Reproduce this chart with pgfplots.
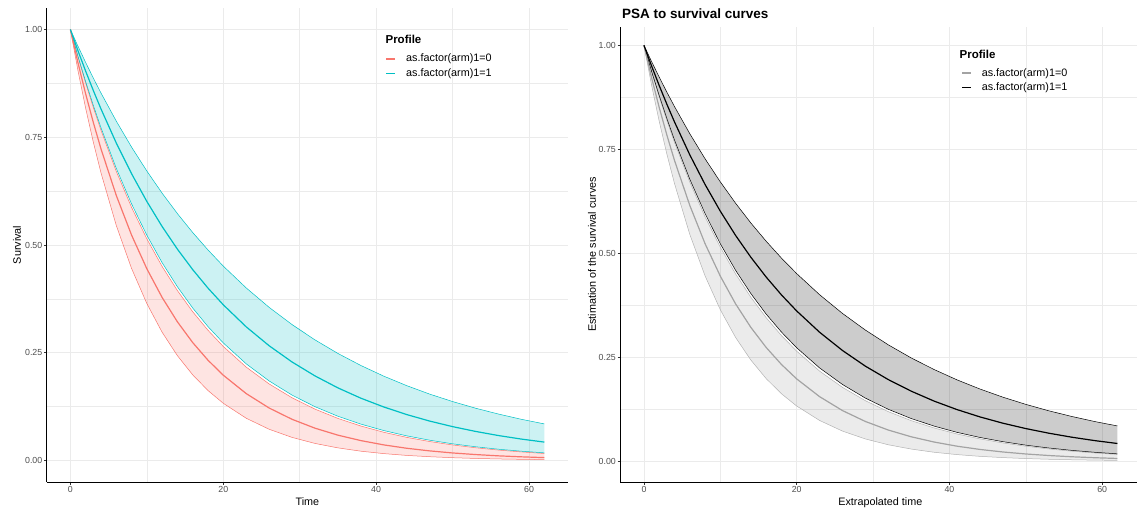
\documentclass[border=0pt]{standalone}
\usepackage{fontspec}
\setmainfont{Liberation Sans}
\usepackage{pgfplots}
\usepackage{pgfplotstable}
\usepgfplotslibrary{fillbetween}
\pgfplotsset{compat=1.18}

\definecolor{ggred}{HTML}{F8766D}
\definecolor{ggcyan}{HTML}{00BFC4}
\definecolor{gridgray}{HTML}{EBEBEB}
\definecolor{ticktext}{HTML}{4D4D4D}
\definecolor{armzero}{HTML}{A3A3A3}
\definecolor{armzeroedge}{HTML}{B3B3B3}

% survival estimates: lower / mean / upper for both arms
\pgfplotstableread{
t  rl     rm     ru     cl     cm     cu
0  1      1      1      1      1      1
1  0.9039 0.9222 0.9357 0.9375 0.9504 0.9610
2  0.8171 0.8504 0.8755 0.8790 0.9032 0.9235
3  0.7386 0.7843 0.8191 0.8240 0.8584 0.8874
4  0.6676 0.7232 0.7664 0.7722 0.8158 0.8528
6  0.5455 0.6151 0.6710 0.6780 0.7368 0.7876
8  0.4457 0.5231 0.5874 0.5955 0.6655 0.7273
10 0.3642 0.4449 0.5143 0.5228 0.6011 0.6717
12 0.2976 0.3783 0.4502 0.4590 0.5429 0.6203
14 0.2432 0.3217 0.3942 0.4031 0.4904 0.5728
16 0.1987 0.2736 0.3451 0.3538 0.4429 0.5290
18 0.1623 0.2327 0.3021 0.3107 0.4000 0.4885
20 0.1327 0.1979 0.2645 0.2728 0.3613 0.4511
23 0.0980 0.1552 0.2166 0.2243 0.3101 0.4004
26 0.0724 0.1217 0.1775 0.1845 0.2662 0.3553
29 0.0535 0.0955 0.1454 0.1517 0.2285 0.3153
32 0.0395 0.0749 0.1191 0.1248 0.1962 0.2798
35 0.0292 0.0587 0.0975 0.1026 0.1684 0.2483
38 0.0215 0.0461 0.0799 0.0844 0.1445 0.2204
41 0.0159 0.0361 0.0654 0.0694 0.1241 0.1956
44 0.0117 0.0283 0.0536 0.0571 0.1065 0.1736
47 0.0087 0.0222 0.0439 0.0470 0.0914 0.1540
50 0.0064 0.0174 0.0360 0.0386 0.0785 0.1367
53 0.0047 0.0137 0.0295 0.0318 0.0674 0.1213
56 0.0035 0.0107 0.0241 0.0261 0.0578 0.1077
59 0.0026 0.0084 0.0198 0.0215 0.0496 0.0955
62 0.0019 0.0066 0.0162 0.0177 0.0426 0.0848
}\survtab

\pgfplotsset{
  survaxis/.style={
    scale only axis, set layers,
    axis x line*=bottom, axis y line*=left,
    axis line style={black, line width=0.9pt},
    xtick={0,20,40,60}, ytick={0,0.25,0.5,0.75,1},
    minor x tick num=1, minor y tick num=1,
    grid=both,
    major grid style={gridgray, line width=0.8pt},
    minor grid style={gridgray, line width=0.6pt},
    tick align=outside, major tick length=2.75pt, minor tick length=0pt,
    tick style={black!80, line width=0.6pt},
    ticklabel style={font=\fontsize{8.8}{10}\selectfont, text=ticktext, inner sep=1.5pt},
    /pgf/number format/assume math mode=true,
    yticklabel style={/pgf/number format/fixed, /pgf/number format/fixed zerofill, /pgf/number format/precision=2},
    label style={font=\fontsize{10.8}{12}\selectfont},
    legend style={draw=none, fill=none, anchor=north west, inner sep=0pt,
      font=\fontsize{10.8}{12}\selectfont, row sep=2.6pt, column sep=9pt,
      nodes={inner sep=1pt, text depth=0.2em}},
    legend cell align=left,
    legend image code/.code={\draw[#1, line width=1.6pt] (0pt,0pt) -- (9pt,0pt);},
    every axis plot/.append style={line join=round},
  }
}

\begin{document}
\begin{tikzpicture}

% left panel
\begin{axis}[survaxis,
  at={(46.7pt,29pt)}, anchor=south west,
  width=521.3pt, height=474pt,
  xmin=-3.1, xmax=65.1, ymin=-0.05, ymax=1.05,
  xlabel={Time}, ylabel={Survival},
  xlabel style={at={(axis description cs:0.5,-0.042)}, anchor=center},
  ylabel style={at={(axis description cs:-0.057,0.5)}, anchor=center},
  legend style={at={(axis description cs:0.6497,0.9055)}},
]
\addplot[ggred, line width=0.5pt, name path=rlow, forget plot] table[x=t, y=rl]{\survtab};
\addplot[ggred, line width=0.5pt, name path=rup, forget plot] table[x=t, y=ru]{\survtab};
\addplot[fill=ggred, fill opacity=0.2, draw=none, forget plot] fill between[of=rlow and rup];
\addplot[ggcyan, line width=0.5pt, name path=clow, forget plot] table[x=t, y=cl]{\survtab};
\addplot[ggcyan, line width=0.5pt, name path=cup, forget plot] table[x=t, y=cu]{\survtab};
\addplot[fill=ggcyan, fill opacity=0.2, draw=none, forget plot] fill between[of=clow and cup];
\addplot[ggred, line width=1.2pt] table[x=t, y=rm]{\survtab};
\addlegendentry{as.factor(arm)1=0}
\addplot[ggcyan, line width=1.2pt] table[x=t, y=cm]{\survtab};
\addlegendentry{as.factor(arm)1=1}
\node[anchor=west, inner sep=0pt, font=\bfseries\fontsize{11.5}{13}\selectfont]
  at (axis description cs:0.6497,0.9346) {Profile};
\end{axis}

% right panel
\begin{axis}[survaxis,
  at={(620.3pt,29pt)}, anchor=south west,
  width=517pt, height=455.3pt,
  xmin=-3.1, xmax=64.6, ymin=-0.05, ymax=1.045,
  xlabel={Extrapolated time}, ylabel={Estimation of the survival curves},
  xlabel style={at={(axis description cs:0.503,-0.0446)}, anchor=center},
  ylabel style={at={(axis description cs:-0.0547,0.5)}, anchor=center},
  title={PSA to survival curves},
  title style={at={(axis description cs:0.003,1.0057)}, anchor=base west, inner sep=0pt,
    font=\bfseries\fontsize{13.5}{15}\selectfont},
  legend style={at={(axis description cs:0.659,0.9114)}},
]
\addplot[armzeroedge, line width=0.5pt, name path=glow, forget plot] table[x=t, y=rl]{\survtab};
\addplot[armzeroedge, line width=0.5pt, name path=gup, forget plot] table[x=t, y=ru]{\survtab};
\addplot[fill=black, fill opacity=0.08, draw=none, forget plot] fill between[of=glow and gup];
\addplot[black, line width=0.5pt, name path=klow, forget plot] table[x=t, y=cl]{\survtab};
\addplot[black, line width=0.5pt, name path=kup, forget plot] table[x=t, y=cu]{\survtab};
\addplot[fill=black, fill opacity=0.2, draw=none, forget plot] fill between[of=klow and kup];
\addplot[armzero, line width=1.2pt] table[x=t, y=rm]{\survtab};
\addlegendentry{as.factor(arm)1=0}
\addplot[black, line width=1.2pt] table[x=t, y=cm]{\survtab};
\addlegendentry{as.factor(arm)1=1}
\node[anchor=west, inner sep=0pt, font=\bfseries\fontsize{11.5}{13}\selectfont]
  at (axis description cs:0.656,0.9385) {Profile};
\end{axis}

\pgfresetboundingbox
\useasboundingbox (0,0) rectangle (1137pt,511pt);
\end{tikzpicture}
\end{document}
